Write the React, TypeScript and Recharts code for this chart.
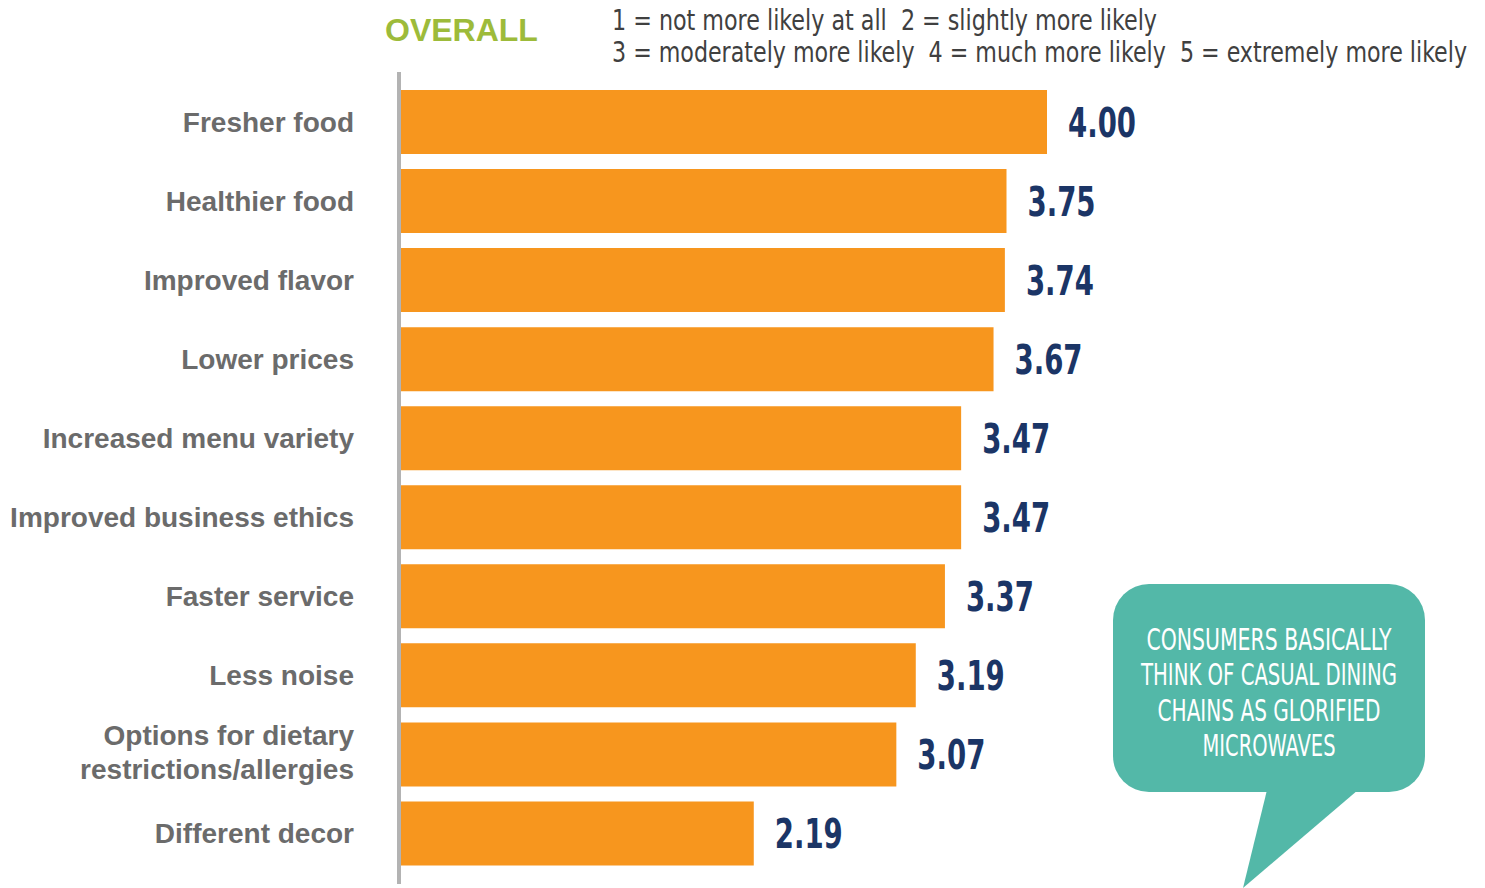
import { BarChart, Bar, XAxis, YAxis, LabelList } from 'recharts';

const categories = [
  'Fresher food',
  'Healthier food',
  'Improved flavor',
  'Lower prices',
  'Increased menu variety',
  'Improved business ethics',
  'Faster service',
  'Less noise',
  'Options for dietary\nrestrictions/allergies',
  'Different decor',
];
const scores = [4.0, 3.75, 3.74, 3.67, 3.47, 3.47, 3.37, 3.19, 3.07, 2.19];

const scaleLegend = [
  '1 = not more likely at all  2 = slightly more likely',
  '3 = moderately more likely  4 = much more likely  5 = extremely more likely',
];
const calloutLines = [
  'CONSUMERS BASICALLY',
  'THINK OF CASUAL DINING',
  'CHAINS AS GLORIFIED',
  'MICROWAVES',
];

const data = categories.map((name, i) => ({ name, value: scores[i] }));

const narrow = '"Liberation Sans Narrow", "DejaVu Sans Condensed", sans-serif';

const CategoryTick = (props: any) => {
  const { x, y, payload } = props;
  const lines = String(payload.value).split('\n');
  const lh = 34;
  const start = y - ((lines.length - 1) * lh) / 2 - (lines.length > 1 ? 2 : 0);
  return (
    <text
      x={x}
      y={start}
      textAnchor="end"
      fill="#6b6b6b"
      fontFamily='"Liberation Sans", Arial, sans-serif'
      fontWeight="bold"
      fontSize={28}
    >
      {lines.map((l, i) => (
        <tspan key={i} x={x} y={start + i * lh} dy="0.36em">
          {l}
        </tspan>
      ))}
    </text>
  );
};

// value label next to each bar, squeezed to a condensed look
const ValueLabel = (props: any) => {
  const { x, y, width, height, value } = props;
  const text = Number(value).toFixed(2);
  return (
    <text
      x={x + width + 21}
      y={y + height / 2}
      dy="0.36em"
      fill="#1b3566"
      fontFamily={narrow}
      fontWeight="bold"
      fontSize={41}
      textLength={68}
      lengthAdjust="spacingAndGlyphs"
    >
      {text}
    </text>
  );
};

const calloutWidths = [245, 256, 223, 133];

export default function App() {
  return (
    <div style={{ position: 'absolute', left: 0, top: 0, width: 1485, height: 888, background: '#fff' }}>
      <BarChart
        width={1485}
        height={888}
        layout="vertical"
        data={data}
        margin={{ top: 72, right: 276, bottom: 4, left: 0 }}
      >
        <XAxis type="number" domain={[0, 5]} hide />
        <YAxis
          type="category"
          dataKey="name"
          width={399}
          interval={0}
          tickSize={0}
          tickMargin={45}
          tickLine={false}
          axisLine={{ stroke: '#b3b3b3', strokeWidth: 4 }}
          padding={{ top: 10, bottom: 11.5 }}
          tick={<CategoryTick />}
        />
        <Bar dataKey="value" fill="#f7961e" barSize={64} isAnimationActive={false}>
          <LabelList dataKey="value" content={<ValueLabel />} />
        </Bar>
      </BarChart>
      <svg
        width={1485}
        height={888}
        style={{ position: 'absolute', left: 0, top: 0, pointerEvents: 'none' }}
      >
        <text
          x={385}
          y={41}
          fill="#9dbb3a"
          fontFamily='"Liberation Sans", Arial, sans-serif'
          fontWeight="bold"
          fontSize={32}
        >
          OVERALL
        </text>
        {scaleLegend.map((t, i) => (
          <text
            key={i}
            x={612}
            y={30 + i * 32}
            fill="#404040"
            fontFamily={narrow}
            fontSize={29}
            textLength={i === 0 ? 545 : 855}
            lengthAdjust="spacingAndGlyphs"
            style={{ whiteSpace: 'pre' }}
          >
            {t}
          </text>
        ))}
        <rect x={1113} y={584} width={312} height={208} rx={36} fill="#53b8a8" />
        <polygon points="1267,790 1358,790 1243,888" fill="#53b8a8" />
        {calloutLines.map((t, i) => (
          <text
            key={i}
            x={1269}
            y={650 + i * 35.3}
            textAnchor="middle"
            fill="#fff"
            fontFamily={narrow}
            fontSize={30}
            textLength={calloutWidths[i]}
            lengthAdjust="spacingAndGlyphs"
          >
            {t}
          </text>
        ))}
      </svg>
    </div>
  );
}
